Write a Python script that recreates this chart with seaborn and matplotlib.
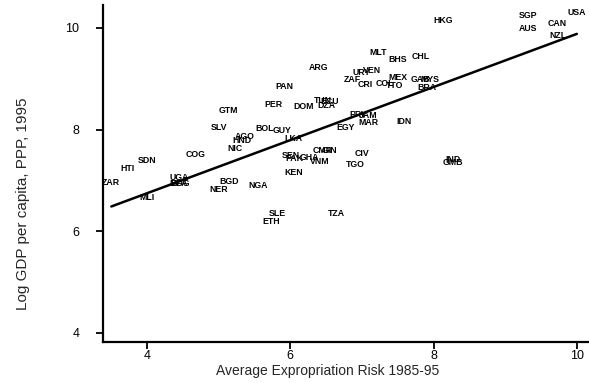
import matplotlib
matplotlib.use("Agg")
import matplotlib.pyplot as plt
import seaborn as sns
import pandas as pd

# country codes, average expropriation risk 1985-95, log GDP per capita 1995
codes = ["AGO", "ARG", "AUS", "BFA", "BGD", "BHS", "BOL", "BRA", "CAN", "CHL",
         "CIV", "CMR", "COG", "COL", "CRI", "DOM", "DZA", "ECU", "EGY", "ETH",
         "GAB", "GHA", "GIN", "GMB", "GTM", "GUY", "HKG", "HND", "HTI", "IDN",
         "IND", "JAM", "KEN", "LKA", "MAR", "MDG", "MEX", "MLI", "MLT", "MYS",
         "NER", "NGA", "NIC", "NZL", "PAK", "PAN", "PER", "PRY", "SDN", "SEN",
         "SGP", "SLE", "SLV", "TGO", "TTO", "TUN", "TZA", "UGA", "URY", "USA",
         "VEN", "VNM", "ZAF", "ZAR"]
risk = [5.36, 6.39, 9.32, 4.45, 5.14, 7.50, 5.64, 7.91, 9.73, 7.82,
        7.00, 6.45, 4.68, 7.32, 7.05, 6.18, 6.50, 6.55, 6.77, 5.73,
        7.82, 6.27, 6.55, 8.27, 5.14, 5.89, 8.14, 5.32, 3.73, 7.59,
        8.27, 7.09, 6.05, 6.05, 7.09, 4.45, 7.50, 4.00, 7.23, 7.95,
        5.00, 5.55, 5.23, 9.73, 6.05, 5.91, 5.77, 6.95, 4.00, 6.00,
        9.32, 5.82, 5.00, 6.91, 7.45, 6.45, 6.64, 4.45, 7.00, 10.00,
        7.14, 6.41, 6.86, 3.50]
loggdp = [7.77, 9.13, 9.90, 6.85, 6.88, 9.29, 7.93, 8.73, 9.99, 9.34,
          7.44, 7.50, 7.42, 8.81, 8.79, 8.36, 8.39, 8.47, 7.95, 6.11,
          8.90, 7.37, 7.49, 7.27, 8.29, 7.90, 10.05, 7.69, 7.15, 8.07,
          7.33, 8.19, 7.06, 7.73, 8.04, 6.84, 8.94, 6.57, 9.43, 8.89,
          6.73, 6.82, 7.54, 9.76, 7.35, 8.76, 8.40, 8.21, 7.31, 7.40,
          10.15, 6.25, 7.95, 7.22, 8.77, 8.48, 6.25, 6.97, 9.03, 10.22,
          9.07, 7.28, 8.89, 6.87]

x_ticks = [4, 6, 8, 10]
y_ticks = [4, 6, 8, 10]

df = pd.DataFrame({"code": codes, "risk": risk, "loggdp": loggdp})

sns.set_style("ticks")
plt.rcParams["font.family"] = ["Liberation Sans", "DejaVu Sans"]

fig = plt.figure(figsize=(5.89, 3.83), dpi=100)
ax = fig.add_axes([0.175, 0.107, 0.825, 0.880])

# OLS fit line through the countries
sns.regplot(data=df, x="risk", y="loggdp", ax=ax, scatter=False, ci=None,
            color="black", line_kws={"linewidth": 1.8})

# country codes instead of markers
for _, r in df.iterrows():
    ax.text(r["risk"], r["loggdp"], r["code"], ha="center", va="bottom",
            fontsize=6.3, fontweight="bold", color="black")

ax.set_xlim(3.385, 10.17)
ax.set_ylim(3.82, 10.45)
ax.set_xticks(x_ticks)
ax.set_yticks(y_ticks)
ax.tick_params(labelsize=9, length=5, width=1.3, colors="black")
ax.tick_params(axis="y", pad=12)
ax.tick_params(axis="x", pad=1)
ax.set_xlabel("Average Expropriation Risk 1985-95", fontsize=10)
ax.set_ylabel("Log GDP per capita, PPP, 1995", fontsize=11)
ax.xaxis.set_label_coords(0.463, -0.065)
ax.yaxis.set_label_coords(-0.15, 0.41)

for s in ["left", "bottom"]:
    ax.spines[s].set_linewidth(1.6)
    ax.spines[s].set_color("black")
sns.despine(ax=ax)

fig.savefig("out.png", dpi=100)
